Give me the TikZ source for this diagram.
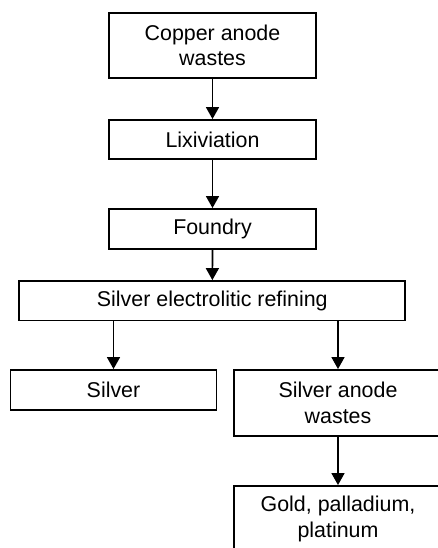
\documentclass[tikz,border=0pt]{standalone}
\usepackage{fontspec}
\setmainfont{Liberation Sans}
\usetikzlibrary{arrows.meta}
\tikzset{
  stage/.style={draw, line width=1.9pt, inner sep=0pt, align=center,
    font=\fontsize{21.4}{25.6}\selectfont},
  flow/.style={line width=1.7pt, -{Triangle[width=13pt,length=12pt]}}
}
\begin{document}
\begin{tikzpicture}[x=1pt,y=1pt]
\useasboundingbox (0,0) rectangle (438,548);
\clip (0,0) rectangle (438,548);
% main line
\node[stage, minimum width=207pt, minimum height=65pt] (copper) at (212.5,502.5) {Copper anode\\wastes};
\node[stage, minimum width=207pt, minimum height=39pt] (lixiv) at (212.5,408.5) {Lixiviation};
\node[stage, minimum width=207pt, minimum height=40pt] (foundry) at (212.5,319) {Foundry};
\node[stage, minimum width=386pt, minimum height=39.5pt] (refining) at (212.3,247.2) {Silver electrolitic refining};
% products
\node[stage, minimum width=206pt, minimum height=40pt] (silver) at (113.5,158) {Silver};
\node[stage, minimum width=208pt, minimum height=66pt] (slimes) at (338,145) {Silver anode\\wastes};
\node[stage, minimum width=208pt, minimum height=66pt] (noble) at (338,29) {Gold, palladium,\\platinum};
\draw[flow] (copper) -- (lixiv);
\draw[flow] (lixiv) -- (foundry);
\draw[flow] (foundry) -- (refining);
\draw[flow] (silver.north |- refining.south) -- (silver);
\draw[flow] (slimes.north |- refining.south) -- (slimes);
\draw[flow] (slimes) -- (noble);
\end{tikzpicture}
\end{document}
